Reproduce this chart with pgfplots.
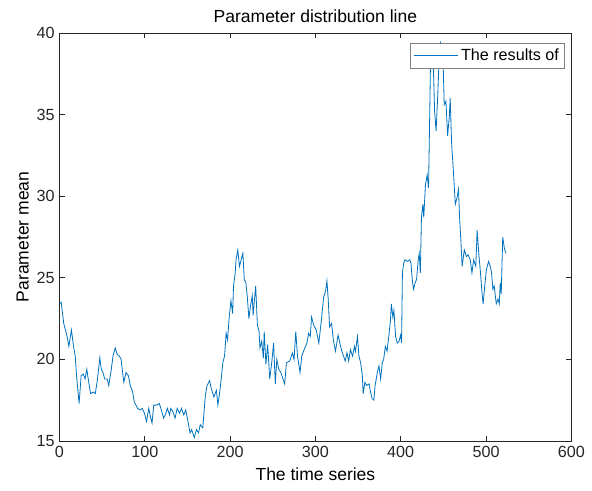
\documentclass[border=0pt]{standalone}
\usepackage{fontspec}
\setmainfont{Liberation Sans}
\usepackage{pgfplots}
\pgfplotsset{compat=1.18}
\definecolor{mblue}{RGB}{0,114,189}
\definecolor{axgray}{RGB}{38,38,38}

\pgfplotstableread{
x y
0 23.4
2 23.5
5 22.2
9 21.4
11 20.8
14 21.8
16.5 20.8
18.5 20.2
20 19.0
23 17.3
25.4 19.0
28 19.1
30 18.8
32 19.4
34 18.7
36.5 17.9
39.5 18.0
42 17.9
44.6 18.8
47.3 20.1
49 19.4
51 19.2
53 18.8
56 18.8
57.7 18.4
60.8 19.4
62.7 20.2
65.4 20.7
67.7 20.3
70.3 20.2
72.2 20.0
75.4 18.6
78 19.2
80.8 19.0
83 18.4
85.8 18.0
87.7 17.4
89.6 17.2
91.5 17.0
94.6 16.9
97 17.0
99.6 16.7
102 16.2
104.7 17.0
106.6 16.5
108.5 16.1
110.5 17.2
114 17.2
117 17.3
120 16.8
122 16.4
124 16.6
126.6 17.0
129 16.6
130.5 17.0
133 16.8
135.5 16.4
138 17.0
140.7 16.7
143 17.0
145.7 16.6
148 16.9
150.6 16.2
153 15.5
155 15.7
158 15.2
160.6 15.7
163 15.5
165 16.0
168 15.8
171 17.8
173 18.4
176 18.7
178 18.2
181 17.7
184 18.1
185.7 17.2
187.6 17.9
189.6 18.8
191.5 19.8
193.5 20.2
195.4 21.6
197 21.2
199 22.6
201 23.6
203 22.8
204 24.5
206 25.3
207 26.1
209 26.7
211 25.7
213 26.1
215 26.5
216.6 24.9
218.5 24.7
220.4 23.7
222 22.5
224 23.3
226 23.9
227 22.7
230 24.5
232 22.1
234 21.7
235 20.7
237 21.1
239 20.1
240 21.7
242 19.7
244 20.9
246.5 18.8
248.8 19.8
251 21.0
253 18.5
254.8 20.0
257 19.4
259.5 19.2
262 18.8
264 18.5
266 19.8
270 19.9
273 20.4
275 20.0
277 21.7
279 20.2
282 19.2
284 20.2
286.8 20.6
290 21.0
292 21.6
294 21.4
295.5 22.6
298 22.1
301 21.8
304 21.0
307 22.4
309.6 23.8
312 24.2
313.5 24.8
315 23.7
316.6 22.0
319 22.2
321 21.2
323.5 20.5
326.6 21.5
329 20.9
331 20.5
333 20.2
335 19.9
337 20.4
339 19.9
341 20.6
343.5 20.2
345.8 20.8
347 20.5
349.3 21.4
351 20.2
353 19.8
355 19.0
356 17.9
358 18.6
360 18.4
362.8 18.5
364.6 18.0
366.5 17.6
368.5 17.5
370 18.4
372.6 19.2
374.5 19.6
376.5 18.8
378.4 19.8
380 20.0
382 20.8
384 20.5
386 21.4
388 22.4
389 23.4
390.8 22.6
392 23.0
394 21.4
396 21.0
398 21.1
400 21.5
401 21.0
402 25.3
403.5 25.9
405 26.1
408 26.0
410.6 26.1
412 25.9
413.5 24.9
415 24.3
417 24.7
418.6 24.9
420.5 26.1
421.7 26.5
423 25.3
424.3 28.7
426 29.5
427 28.7
429 30.7
431 31.3
432.6 30.5
434 35.0
435 38.5
437 39.0
438.5 37.5
439.7 35.2
441.5 34.0
443.5 36.3
445.5 39.1
446.6 39.4
448.5 39.0
449.7 38.2
451 35.6
453 35.8
455 33.7
457 34.9
458 36.0
459.6 33.3
462 31.3
464 29.5
466 29.9
467.7 30.4
469 28.7
470.5 27.3
472 25.7
474.5 26.7
477 26.3
479 26.4
481.5 26.1
483.5 25.3
485.5 26.1
488 25.7
489.6 27.9
491.5 26.5
493.5 25.3
495.4 24.0
496.6 23.4
498.5 24.5
500.5 25.5
503 26.0
505 25.7
506.5 25.3
508 24.3
509.6 24.5
512 23.4
514 23.7
515.5 23.4
516.7 24.7
517.8 24.0
519.6 27.5
521.5 26.8
523.4 26.5
}\series

\begin{document}
\begin{tikzpicture}
\begin{axis}[
  scale only axis,
  width=380pt, height=303pt,
  xmin=0, xmax=600, ymin=15, ymax=40,
  xtick={0,100,...,600}, ytick={15,20,...,40},
  tick pos=both, tick align=inside,
  major tick length=4pt,
  axis line style={axgray, line width=0.5pt},
  tick style={axgray, line width=0.5pt},
  /pgf/number format/assume math mode=true,
  tick label style={font=\fontsize{12}{14}\selectfont, text=axgray},
  xlabel={The time series}, ylabel={Parameter mean},
  label style={font=\fontsize{13}{15}\selectfont, text=black},
  ylabel style={yshift=-1pt},
  xlabel style={yshift=-1pt},
  title={Parameter distribution line},
  title style={font=\fontsize{13}{15}\selectfont, yshift=-2pt},
  legend style={at={(rel axis cs:0.987,0.975)}, anchor=north east,
    draw=gray, line width=0.5pt, font=\fontsize{12}{14}\selectfont,
    inner sep=2pt, row sep=0pt},
  legend cell align=left,
  legend image code/.code={\draw[#1] (0cm,0cm) -- (1.15cm,0cm);},
]
\addplot[mblue, line width=0.6pt, mark=none] table {\series};
\addlegendentry{The results of}
\end{axis}
\path (current bounding box.north west) ++(-9pt,4pt);
\path (current bounding box.south east) ++(2pt,-4pt);
\end{tikzpicture}
\end{document}
